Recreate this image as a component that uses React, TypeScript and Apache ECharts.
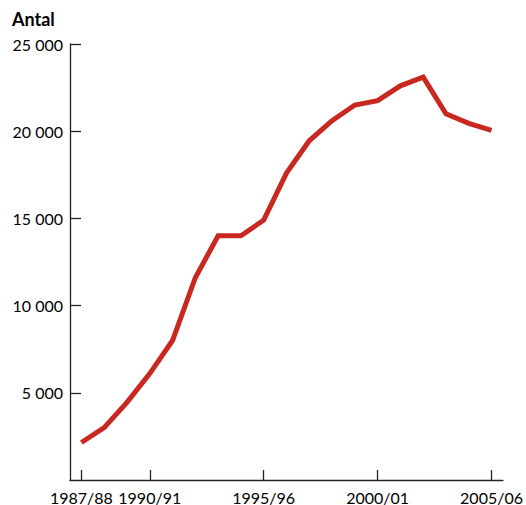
import React, { useEffect, useRef } from "react";
import * as echarts from "echarts";

const categories = [
  "1987/88", "1988/89", "1989/90", "1990/91", "1991/92", "1992/93", "1993/94",
  "1994/95", "1995/96", "1996/97", "1997/98", "1998/99", "1999/00", "2000/01",
  "2001/02", "2002/03", "2003/04", "2004/05", "2005/06",
];
const antal = [
  2150, 3000, 4450, 6100, 8000, 11600, 14000, 14000, 14900, 17600, 19450,
  20600, 21500, 21750, 22600, 23100, 21000, 20450, 20050,
];
const shownLabels = ["1987/88", "1990/91", "1995/96", "2000/01", "2005/06"];
const yTicks = [5000, 10000, 15000, 20000, 25000];
const yTitle = "Antal";

const FONT = "Lato, 'Open Sans', sans-serif";

export default function App() {
  const ref = useRef<HTMLDivElement>(null);
  useEffect(() => {
    if (!ref.current) return;
    document.body.style.margin = "0";
    const chart = echarts.init(ref.current, null, { renderer: "svg" });
    const shownIdx = shownLabels.map((c) => categories.indexOf(c));
    chart.setOption({
      animation: false,
      backgroundColor: "#ffffff",
      textStyle: { fontFamily: FONT },
      title: {
        text: yTitle,
        left: 12,
        top: 10,
        padding: 0,
        textStyle: { fontFamily: FONT, fontSize: 18, fontWeight: "bold", color: "#000" },
      },
      grid: { left: 70, right: 19, top: 44, bottom: 24, containLabel: false },
      xAxis: {
        type: "value",
        min: -0.5,
        max: categories.length - 0.5,
        axisLine: { show: true, onZero: false, lineStyle: { color: "#222", width: 1.3 } },
        axisTick: {
          show: true,
          inside: true,
          length: 10,
          customValues: shownIdx,
          lineStyle: { color: "#222", width: 1.3 },
        },
        axisLabel: {
          customValues: shownIdx,
          margin: 9,
          fontSize: 16,
          color: "#000",
          fontFamily: FONT,
          showMinLabel: true,
          showMaxLabel: true,
          formatter: (v: number) => categories[Math.round(v)] ?? "",
        },
        splitLine: { show: false },
      },
      yAxis: {
        type: "value",
        min: 0,
        max: 25000,
        axisLine: { show: true, onZero: false, lineStyle: { color: "#222", width: 1.3 } },
        axisTick: {
          show: true,
          inside: true,
          length: 11,
          customValues: yTicks,
          lineStyle: { color: "#222", width: 1.3 },
        },
        axisLabel: {
          customValues: yTicks,
          margin: 7,
          fontSize: 16,
          color: "#000",
          fontFamily: FONT,
          formatter: (v: number) => String(v).replace(/\B(?=(\d{3})+(?!\d))/g, " "),
        },
        splitLine: { show: false },
      },
      series: [
        {
          type: "line",
          data: antal.map((v, i) => [i, v]),
          symbol: "none",
          lineStyle: { color: "#c8281f", width: 5, join: "miter" },
          itemStyle: { color: "#c8281f" },
        },
      ],
    });
    return () => chart.dispose();
  }, []);
  return <div ref={ref} style={{ width: 526, height: 505 }} />;
}
